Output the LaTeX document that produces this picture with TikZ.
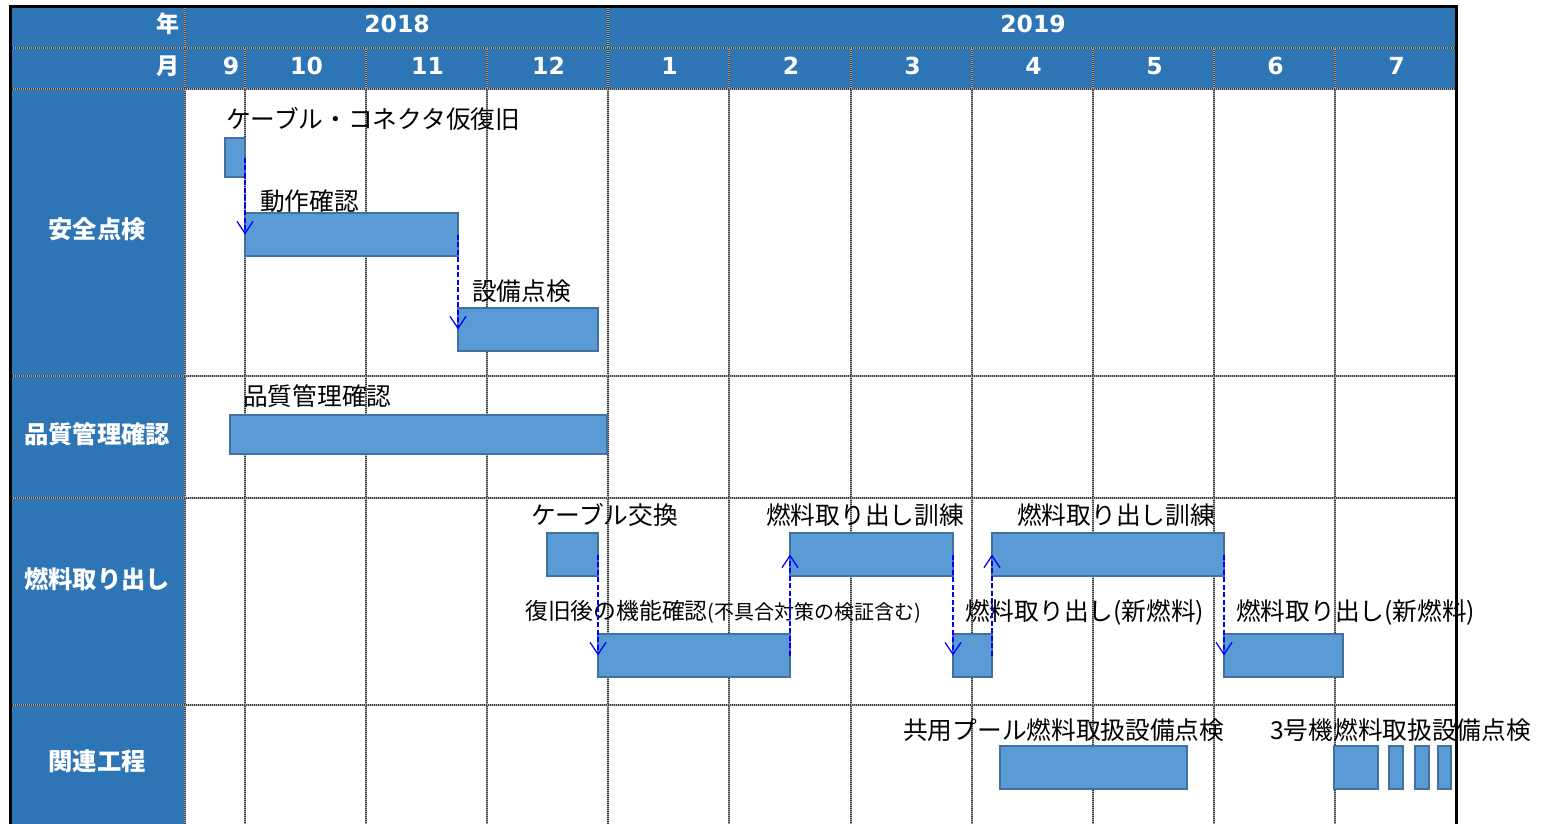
\documentclass[tikz,border=0pt]{standalone}
\usepackage{fontspec}
\newfontfamily\jp{Noto Sans CJK JP}
\newfontfamily\hdr{DejaVu Sans}
\usetikzlibrary{arrows.meta}
\definecolor{hdrblue}{HTML}{2E75B6}
\definecolor{barfill}{HTML}{5B9BD5}
\definecolor{barline}{HTML}{41719C}
\definecolor{gridc}{HTML}{3C3C3C}
\definecolor{gridbg}{HTML}{A8A8A8}
\definecolor{linkblue}{HTML}{0000FF}
\begin{document}
\begin{tikzpicture}[x=1pt,y=-1pt,
  hdrtxt/.style={text=white, font=\hdr\bfseries\fontsize{23.5}{23.5}\selectfont, inner sep=0},
  hdrjp/.style={text=white, font=\jp\bfseries\fontsize{23}{23}\selectfont, inner sep=0},
  rowlab/.style={text=white, font=\jp\bfseries\fontsize{24.3}{24.3}\selectfont, inner sep=0},
  tasklab/.style={font=\jp\fontsize{24.7}{24.7}\selectfont, anchor=west, inner sep=0},
  ganttbar/.style={draw=barline, fill=barfill, line width=1.2pt, anchor=north west, inner sep=0, outer sep=0},
  gridbase/.style={draw=gridbg, line width=2pt},
  gridline/.style={draw=gridc, line width=2pt, dash pattern=on 1pt off 1pt},
  linkarrow/.style={draw=linkblue, line width=1.3pt, dash pattern=on 5pt off 2.5pt, -{Straight Barb[length=12pt,width=16pt]}}
]
\useasboundingbox (0,0) rectangle (1544,824);
% backgrounds
\fill[white] (0,0) rectangle (1544,824);
\fill[hdrblue] (10,7) rectangle (1456,89);
\fill[hdrblue] (10,89) rectangle (185,824);
% grid
\foreach \x in {245,366,487,729,851,972,1093,1214,1335}
  {\draw[gridbase] (\x,48) -- (\x,824); \draw[gridline] (\x,48) -- (\x,824);}
\foreach \x in {185,608}
  {\draw[gridbase] (\x,7) -- (\x,824); \draw[gridline] (\x,7) -- (\x,824);}
\foreach \y in {48,89,376,498,705}
  {\draw[gridbase] (10,\y) -- (1456,\y); \draw[gridline] (10,\y) -- (1456,\y);}
% outer border
\draw[black, line width=3pt] (10,824) -- (10,7) -- (1456,7) -- (1456,824);
% header texts
\node[hdrjp, anchor=east] (nen) at (180,24) {年};
\node[hdrjp, anchor=east] (tsuki) at (180,66) {月};
\node[hdrtxt] (y2018) at (397,24) {2018};
\node[hdrtxt] (y2019) at (1033,24) {2019};
\node[hdrtxt] (m9) at (231,66) {9};
\node[hdrtxt] (m10) at (306.5,66) {10};
\node[hdrtxt] (m11) at (427.5,66) {11};
\node[hdrtxt] (m12) at (548.5,66) {12};
\node[hdrtxt] (m1) at (669.5,66) {1};
\node[hdrtxt] (m2) at (791,66) {2};
\node[hdrtxt] (m3) at (912.5,66) {3};
\node[hdrtxt] (m4) at (1033.5,66) {4};
\node[hdrtxt] (m5) at (1154.5,66) {5};
\node[hdrtxt] (m6) at (1275.5,66) {6};
\node[hdrtxt] (m7) at (1396.5,66) {7};
% row labels
\node[rowlab] (r1) at (97,229) {安全点検};
\node[rowlab] (r2) at (97,434) {品質管理確認};
\node[rowlab] (r3) at (97,579) {燃料取り出し};
\node[rowlab] (r4) at (97,761) {関連工程};
% bars
\node[ganttbar, minimum width=20pt, minimum height=39pt] (b1) at (225,138) {};
\node[ganttbar, minimum width=213pt, minimum height=43pt] (b2) at (245,213) {};
\node[ganttbar, minimum width=140pt, minimum height=43pt] (b3) at (458,308) {};
\node[ganttbar, minimum width=377pt, minimum height=39pt] (b4) at (230,415) {};
\node[ganttbar, minimum width=51pt, minimum height=43pt] (b5) at (547,533) {};
\node[ganttbar, minimum width=192pt, minimum height=43pt] (b6) at (598,634) {};
\node[ganttbar, minimum width=163pt, minimum height=43pt] (b7) at (790,533) {};
\node[ganttbar, minimum width=39pt, minimum height=43pt] (b8) at (953,634) {};
\node[ganttbar, minimum width=232pt, minimum height=43pt] (b9) at (992,533) {};
\node[ganttbar, minimum width=119pt, minimum height=43pt] (b10) at (1224,634) {};
\node[ganttbar, minimum width=187pt, minimum height=43pt] (b11) at (1000,746) {};
\node[ganttbar, minimum width=44pt, minimum height=43pt] (b12a) at (1334,746) {};
\node[ganttbar, minimum width=14pt, minimum height=43pt] (b12b) at (1389,746) {};
\node[ganttbar, minimum width=14pt, minimum height=43pt] (b12c) at (1415,746) {};
\node[ganttbar, minimum width=13pt, minimum height=43pt] (b12d) at (1438,746) {};
% task labels
\node[tasklab] (t1) at (226,119) {ケーブル・コネクタ仮復旧};
\node[tasklab] (t2) at (260,201) {動作確認};
\node[tasklab] (t3) at (472,291) {設備点検};
\node[tasklab] (t4) at (243,396) {品質管理確認};
\node[tasklab] (t5) at (531,515) {ケーブル交換};
\node[tasklab] (t7) at (766,515) {燃料取り出し訓練};
\node[tasklab] (t9) at (1017,515) {燃料取り出し訓練};
\node[tasklab] (t6) at (525,612) {{\fontsize{22.8}{22.8}\selectfont 復旧後の機能確認}{\fontsize{20}{20}\selectfont(不具合対策の検証含む)}};
\node[tasklab] (t8) at (965,612) {燃料取り出し(新燃料)};
\node[tasklab] (t10) at (1236,612) {燃料取り出し(新燃料)};
\node[tasklab] (t11) at (903,730) {共用プール燃料取扱設備点検};
\node[tasklab] (t12) at (1270,730) {3号機燃料取扱設備点検};
% links
\draw[linkarrow] (b1.east) -- (b2.west);
\draw[linkarrow] (b2.east) -- (b3.west);
\draw[linkarrow] (b5.east) -- (b6.west);
\draw[linkarrow] (b6.east) -- (b7.west);
\draw[linkarrow] (b7.east) -- (b8.west);
\draw[linkarrow] (b8.east) -- (b9.west);
\draw[linkarrow] (b9.east) -- (b10.west);
\end{tikzpicture}
\end{document}
